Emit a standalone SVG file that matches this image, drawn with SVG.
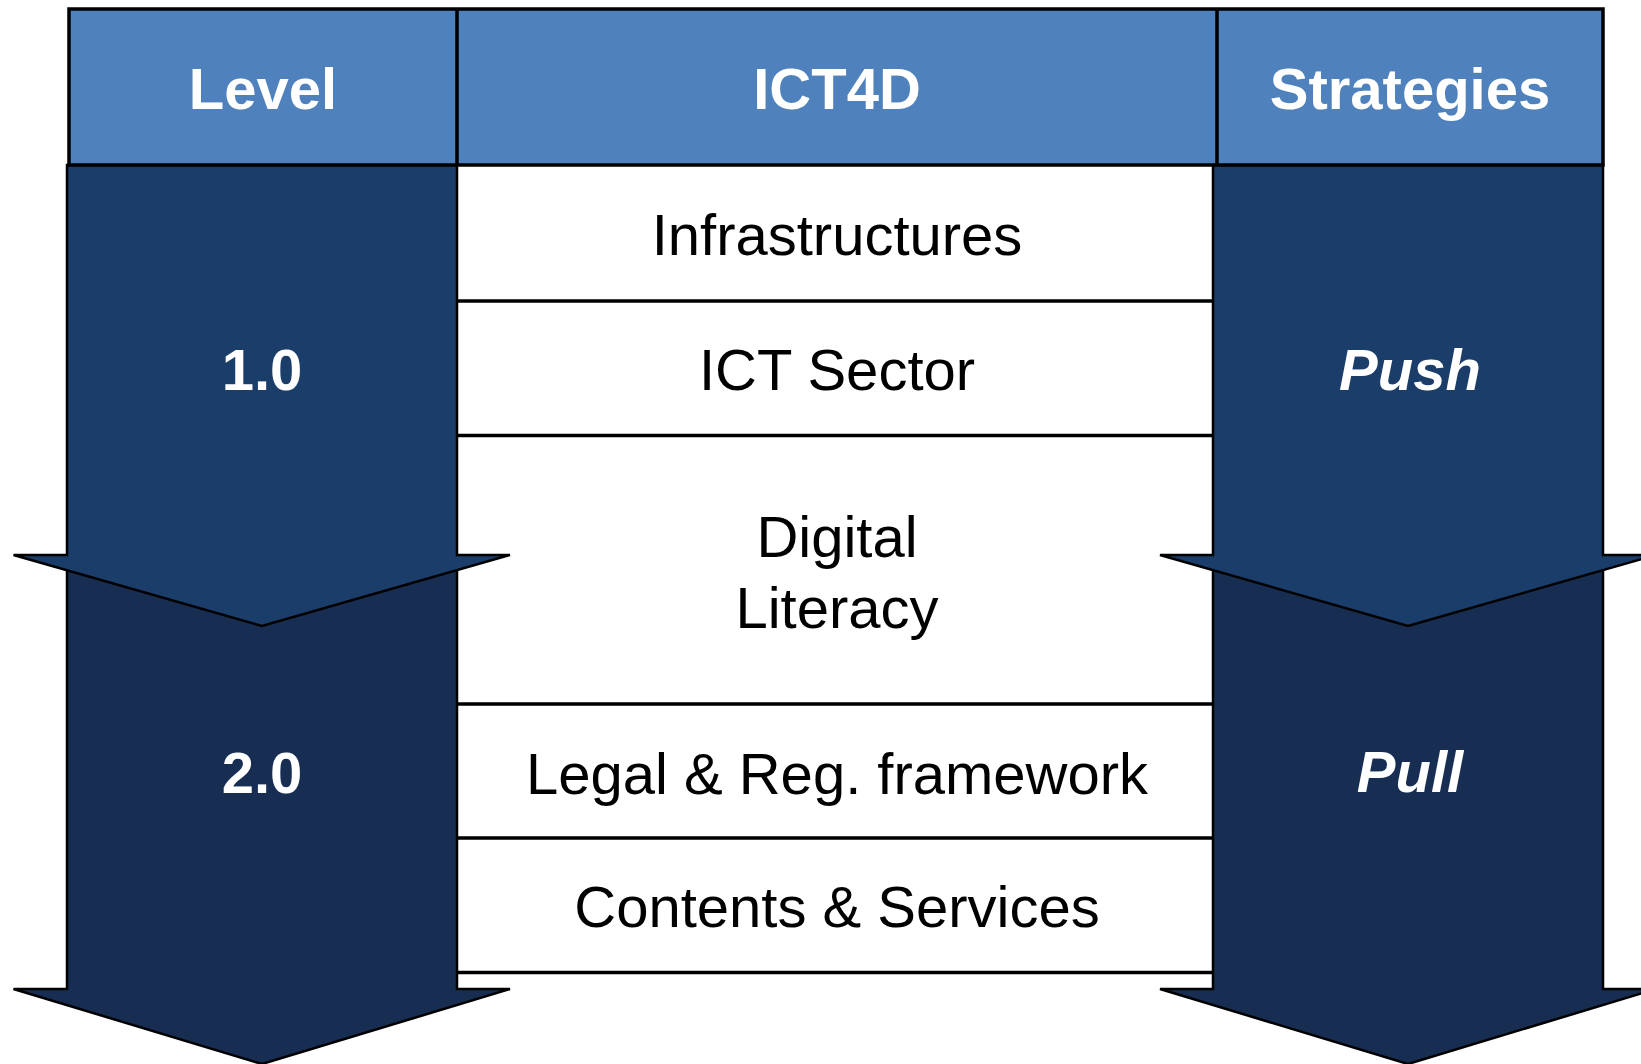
<svg xmlns="http://www.w3.org/2000/svg" width="1641" height="1064" viewBox="0 0 1641 1064">
<style>
.t{font-family:"Liberation Sans",Arial,sans-serif;font-size:58px;text-anchor:middle}
.hd{fill:#ffffff;font-weight:bold}
.bk{fill:#000000}
.it{font-style:italic}
.line{stroke:#000;stroke-width:3.5}
.a1{fill:#1b3d6a;stroke:#000;stroke-width:2.5;stroke-linejoin:miter}
.a2{fill:#172e52;stroke:#000;stroke-width:2.5;stroke-linejoin:miter}
</style>
<rect x="0" y="0" width="1641" height="1064" fill="#ffffff"/>
<g id="ict4d-table">
  <rect x="457" y="165" width="756" height="824" fill="#ffffff"/>
  <g class="line">
    <line x1="457" y1="301" x2="1213" y2="301"/>
    <line x1="457" y1="435.5" x2="1213" y2="435.5"/>
    <line x1="457" y1="704" x2="1213" y2="704"/>
    <line x1="457" y1="838" x2="1213" y2="838"/>
    <line x1="457" y1="972.5" x2="1213" y2="972.5"/>
  </g>
  <g id="row-infrastructures"><text class="t bk" x="837" y="255">Infrastructures</text></g>
  <g id="row-ict-sector"><text class="t bk" x="837" y="390">ICT Sector</text></g>
  <g id="row-digital-literacy"><text class="t bk" x="837" y="557">Digital</text><text class="t bk" x="837" y="628">Literacy</text></g>
  <g id="row-legal"><text class="t bk" x="837" y="794">Legal &amp; Reg. framework</text></g>
  <g id="row-contents"><text class="t bk" x="837" y="927">Contents &amp; Services</text></g>
</g>
<g id="connectors">
  <g id="level-2-arrow"><polygon class="a2" points="67,560 457,560 457,989 510,989 262,1064 13.5,989 67,989"/><text class="t hd" x="262" y="793">2.0</text></g>
  <g id="level-1-arrow"><polygon class="a1" points="67,165 457,165 457,555 510,555 262,626 13.5,555 67,555"/><text class="t hd" x="262" y="390">1.0</text></g>
  <g id="pull-arrow"><polygon class="a2" points="1213,560 1603,560 1603,989 1656,989 1408,1064 1160,989 1213,989"/><text class="t hd it" x="1410" y="792">Pull</text></g>
  <g id="push-arrow"><polygon class="a1" points="1213,165 1603,165 1603,555 1656,555 1408,626 1160,555 1213,555"/><text class="t hd it" x="1410" y="390">Push</text></g>
</g>
<g id="header">
  <rect x="69" y="9" width="1534" height="156" fill="#4f81bd" stroke="#000" stroke-width="3.5"/>
  <line class="line" x1="457" y1="9" x2="457" y2="165"/>
  <line class="line" x1="1217" y1="9" x2="1217" y2="165"/>
  <g id="hdr-level"><text class="t hd" x="263" y="109">Level</text></g>
  <g id="hdr-ict4d"><text class="t hd" x="837" y="109">ICT4D</text></g>
  <g id="hdr-strategies"><text class="t hd" x="1410" y="109">Strategies</text></g>
</g>
</svg>
